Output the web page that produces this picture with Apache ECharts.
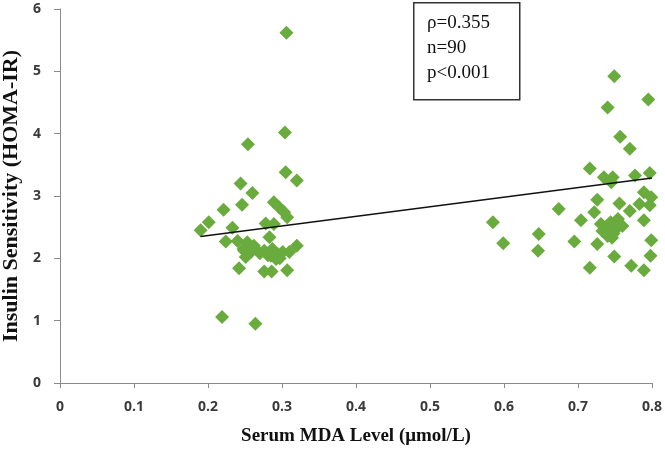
<!DOCTYPE html>
<html>
<head>
<meta charset="utf-8">
<script src="https://cdn.jsdelivr.net/npm/echarts@6/dist/echarts.min.js"></script>
<style>html,body{margin:0;padding:0;background:#fff}#c{width:665px;height:452px}</style>
</head>
<body>
<div id="c"></div>
<script>
// MDA level (x) and HOMA-IR (y) for each subject
const mdaLow = [0.306,0.304,0.254,0.305,0.320,0.244,0.260,0.246,0.221,0.289,0.296,0.303,0.307,0.201,0.190,0.233,0.278,0.289,0.224,0.240,0.253,0.249,0.258,0.251,0.255,0.283,0.276,0.287,0.294,0.301,0.292,0.285,0.310,0.320,0.242,0.276,0.286,0.307,0.219,0.264,0.262,0.281,0.248,0.297,0.270];
const homaLow = [5.62,4.02,3.83,3.38,3.25,3.20,3.05,2.86,2.78,2.90,2.82,2.74,2.66,2.58,2.45,2.49,2.56,2.55,2.27,2.28,2.26,2.12,2.10,2.02,2.18,2.34,2.12,2.15,2.07,2.10,1.99,2.04,2.10,2.20,1.84,1.79,1.79,1.81,1.06,0.95,2.20,2.05,2.15,2.00,2.08];
const mdaHigh = [0.585,0.599,0.647,0.646,0.674,0.695,0.716,0.735,0.747,0.745,0.777,0.797,0.726,0.756,0.789,0.799,0.797,0.783,0.770,0.722,0.704,0.754,0.789,0.731,0.737,0.742,0.748,0.740,0.726,0.799,0.749,0.798,0.716,0.772,0.789,0.749,0.795,0.740,0.757,0.770,0.744,0.752,0.733,0.760,0.746];
const homaHigh = [2.58,2.24,2.39,2.12,2.79,2.27,3.44,3.30,3.30,3.22,3.33,3.37,2.94,2.88,3.06,2.98,2.85,2.87,2.76,2.74,2.61,2.63,2.61,2.55,2.50,2.45,2.40,2.36,2.23,2.29,2.03,2.04,1.85,1.88,1.81,4.92,4.55,4.42,3.95,3.76,2.58,2.48,2.44,2.52,2.33];
// regression line end points
const trendX = [0.19, 0.80];
const trendY = [2.35, 3.29];
const xTicks = ['0','0.1','0.2','0.3','0.4','0.5','0.6','0.7','0.8'];
const statsText = ['ρ=0.355', 'n=90', 'p<0.001'];

const pts = [];
mdaLow.forEach((x,i)=>pts.push([x, homaLow[i]]));
mdaHigh.forEach((x,i)=>pts.push([x, homaHigh[i]]));
const trend = trendX.map((x,i)=>[x, trendY[i]]);

const chart = echarts.init(document.getElementById('c'), null, {renderer:'canvas'});
const axisLbl = {color:'#3a3a3a', fontFamily:'Open Sans', fontWeight:'bold', fontSize:14};
chart.setOption({
  animation:false,
  backgroundColor:'#fff',
  grid:{left:60, right:13, top:9, bottom:69, containLabel:false, outerBoundsMode:'none'},
  xAxis:{
    type:'value', min:0, max:0.8, interval:0.1,
    axisLine:{show:true, onZero:false, lineStyle:{color:'#8a8a8a', width:1}},
    axisTick:{show:true, length:5, lineStyle:{color:'#8a8a8a'}},
    splitLine:{show:false},
    axisLabel:Object.assign({margin:17, formatter:(v)=>xTicks[Math.round(v*10)]}, axisLbl),
    name:'Serum MDA Level (μmol/L)', nameLocation:'middle', nameGap:44,
    nameTextStyle:{fontFamily:'Liberation Serif', fontWeight:'bold', fontSize:19, color:'#111'}
  },
  yAxis:{
    type:'value', min:0, max:6, interval:1,
    axisLine:{show:true, lineStyle:{color:'#8a8a8a', width:1}},
    axisTick:{show:true, length:6, lineStyle:{color:'#8a8a8a'}},
    splitLine:{show:false},
    axisLabel:Object.assign({margin:19}, axisLbl),
    name:'Insulin Sensitivity (HOMA-IR)', nameLocation:'middle', nameGap:37,
    nameTextStyle:{fontFamily:'Liberation Serif', fontWeight:'bold', fontSize:22, color:'#111'}
  },
  series:[
    {type:'scatter', data:pts, symbol:'diamond', symbolSize:14,
     itemStyle:{color:'#6aab3e', opacity:1}, z:2},
    {type:'line', data:trend, symbol:'none', lineStyle:{color:'#111', width:1.5}, z:3}
  ],
  graphic:[
    {type:'rect', left:413, top:2, shape:{width:106, height:97},
     style:{fill:'#fff', stroke:'#333', lineWidth:1.5}, z:10},
    {type:'text', left:427, top:11, style:{text:statsText.join('\n'), lineHeight:25,
     font:'19px "Liberation Serif"', fill:'#111'}, z:11}
  ]
});
</script>
</body>
</html>
